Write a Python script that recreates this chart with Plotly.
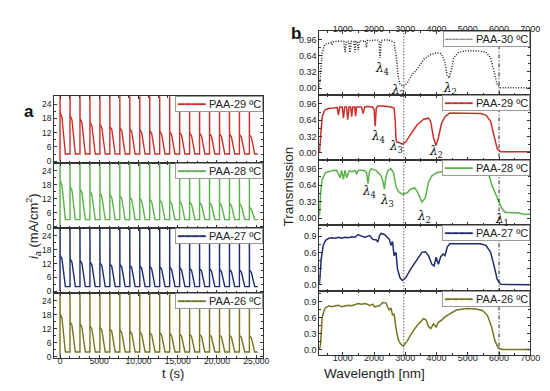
import plotly.graph_objects as go

# ---------------- data: panel a (current transients) ----------------
pulse_times = [0, 1270, 2540, 3810, 5080, 6350, 7620, 8890, 10160, 11430,
               12700, 13970, 15240, 16510, 17780, 19050, 20320, 21590, 22860, 24130]
plateau_29 = [20.5, 19.3, 18.0, 16.5, 15.5, 14.7, 14.1, 13.7, 13.3, 12.9,
              12.6, 12.3, 12.1, 11.9, 11.8, 11.6, 11.5, 11.4, 11.3, 11.2]
plateau_28 = [19.7, 17.2, 16.2, 15.2, 14.4, 13.8, 13.2, 12.7, 12.2, 11.8,
              11.4, 11.0, 10.8, 10.6, 10.4, 10.2, 10.1, 10.0, 9.8, 8.3]
plateau_27 = [15.5, 14.0, 13.4, 12.7, 12.3, 11.9, 11.6, 11.3, 11.0, 10.8,
              10.6, 10.4, 10.2, 10.0, 9.8, 9.7, 9.5, 9.4, 9.2, 9.1]
plateau_26 = [18.3, 14.9, 14.0, 13.2, 12.6, 11.9, 11.4, 11.0, 10.6, 10.3,
              10.1, 9.9, 9.7, 9.6, 9.5, 9.4, 9.3, 9.2, 9.1, 9.0]
base_29, base_28, base_27, base_26 = 3.0, 3.0, 2.0, 2.0
spike_peak = 30.0
t_end = 25200

# ---------------- data: panel b (transmission spectra) ----------------
wl30 = [250, 290, 340, 420, 550, 620, 654, 690, 760, 900, 1030, 1073, 1110, 1190, 1230, 1270,
        1350, 1387, 1420, 1460, 1492, 1530, 1600, 1720, 1754, 1790, 1900, 2000, 2100, 2160,
        2193, 2230, 2300, 2480, 2640, 2720, 2770, 2830, 2940, 3060, 3220, 3380, 3590, 3800,
        4000, 4160, 4270, 4340, 4400, 4480, 4550, 4690, 4950, 5260, 5580, 5730, 5840, 5940,
        6050, 6500, 7000]
T30 = [0.02, 0.30, 0.70, 0.86, 0.89, 0.90, 0.86, 0.91, 0.92, 0.93, 0.92, 0.71, 0.92, 0.92, 0.70, 0.92,
       0.92, 0.71, 0.92, 0.92, 0.75, 0.93, 0.93, 0.93, 0.80, 0.94, 0.94, 0.95, 0.95, 0.93,
       0.60, 0.94, 0.95, 0.95, 0.90, 0.57, 0.24, 0.07, 0.04, 0.10, 0.27, 0.38, 0.57, 0.66,
       0.70, 0.68, 0.50, 0.24, 0.20, 0.37, 0.60, 0.70, 0.74, 0.74, 0.71, 0.60, 0.30, 0.07,
       0.01, 0.01, 0.01]
wl29 = [250, 290, 340, 420, 550, 700, 820, 860, 900, 980, 1020, 1060, 1120, 1157, 1200, 1250,
        1282, 1320, 1380, 1408, 1440, 1600, 1649, 1700, 1800, 1950, 2000, 2036, 2070, 2120,
        2300, 2540, 2640, 2680, 2700, 2730, 2800, 2900, 3010, 3170, 3380, 3590, 3740, 3810,
        3900, 3980, 4060, 4160, 4270, 4420, 4600, 5000, 5400, 5580, 5730, 5840, 5940, 6050,
        6500, 7000]
T29 = [0.0, 0.40, 0.71, 0.84, 0.87, 0.88, 0.89, 0.74, 0.90, 0.90, 0.68, 0.90, 0.90, 0.65, 0.90, 0.90,
       0.71, 0.90, 0.90, 0.72, 0.90, 0.90, 0.77, 0.90, 0.91, 0.90, 0.85, 0.52, 0.88, 0.92,
       0.92, 0.90, 0.88, 0.60, 0.27, 0.21, 0.20, 0.17, 0.21, 0.36, 0.55, 0.66, 0.68, 0.62,
       0.30, 0.14, 0.30, 0.58, 0.71, 0.78, 0.78, 0.78, 0.77, 0.74, 0.62, 0.33, 0.08, 0.02,
       0.02, 0.02]
wl28 = [250, 290, 340, 445, 650, 800, 916, 960, 1020, 1070, 1125, 1200, 1282, 1400, 1439, 1500,
        1600, 1700, 1760, 1806, 1850, 1910, 2070, 2225, 2290, 2330, 2380, 2440, 2540, 2620,
        2700, 2770, 2900, 3060, 3170, 3290, 3380, 3460, 3530, 3640, 3740, 3850, 4000, 4320,
        5000, 5500, 5680, 5780, 5890, 5990, 6080, 6200, 6410, 6620, 6830, 7000]
T28 = [0.03, 0.49, 0.75, 0.88, 0.92, 0.93, 0.78, 0.93, 0.75, 0.93, 0.78, 0.92, 0.90, 0.92, 0.85, 0.93,
       0.93, 0.92, 0.88, 0.67, 0.90, 0.96, 0.92, 0.82, 0.70, 0.56, 0.80, 0.92, 0.96, 0.88,
       0.62, 0.52, 0.46, 0.49, 0.56, 0.59, 0.52, 0.39, 0.31, 0.39, 0.69, 0.82, 0.88, 0.92,
       0.92, 0.90, 0.82, 0.62, 0.46, 0.33, 0.20, 0.11, 0.10, 0.10, 0.07, 0.08]
wl27 = [250, 309, 372, 445, 550, 650, 760, 863, 960, 1070, 1180, 1280, 1390, 1490, 1600, 1700,
        1860, 1960, 2070, 2120, 2170, 2225, 2330, 2430, 2490, 2540, 2590, 2640, 2700, 2750,
        2830, 2905, 3010, 3170, 3380, 3530, 3640, 3740, 3850, 3920, 3985, 4060, 4130, 4210,
        4270, 4340, 4420, 4600, 5000, 5400, 5580, 5730, 5840, 5940, 6050, 6500, 7000]
T27 = [0.0, 0.48, 0.73, 0.82, 0.86, 0.87, 0.86, 0.88, 0.86, 0.88, 0.87, 0.89, 0.88, 0.93, 0.90, 0.88,
       0.91, 0.84, 0.83, 0.79, 0.90, 0.95, 0.93, 0.88, 0.84, 0.73, 0.80, 0.54, 0.60, 0.29,
       0.13, 0.08, 0.13, 0.29, 0.48, 0.60, 0.61, 0.54, 0.38, 0.35, 0.51, 0.38, 0.52, 0.57,
       0.54, 0.70, 0.76, 0.76, 0.76, 0.76, 0.73, 0.60, 0.35, 0.10, 0.01, 0.0, 0.0]
wl26 = [250, 288, 340, 424, 550, 650, 760, 863, 960, 1070, 1180, 1280, 1390, 1490, 1600, 1700,
        1780, 1860, 1960, 2015, 2100, 2172, 2277, 2382, 2430, 2486, 2540, 2591, 2643, 2696,
        2769, 2853, 2926, 3062, 3219, 3376, 3586, 3670, 3743, 3816, 3900, 3984, 4057, 4162,
        4266, 4423, 4633, 4947, 5261, 5470, 5627, 5763, 5868, 5973, 6099, 6500, 7000]
T26 = [0.0, 0.10, 0.61, 0.77, 0.82, 0.80, 0.82, 0.83, 0.80, 0.82, 0.83, 0.82, 0.84, 0.86, 0.85, 0.86,
       0.85, 0.82, 0.85, 0.80, 0.81, 0.82, 0.88, 0.87, 0.80, 0.74, 0.78, 0.64, 0.67, 0.42,
       0.19, 0.10, 0.06, 0.16, 0.32, 0.45, 0.58, 0.55, 0.43, 0.39, 0.48, 0.42, 0.51, 0.55,
       0.61, 0.67, 0.74, 0.77, 0.76, 0.73, 0.64, 0.42, 0.16, 0.03, 0.0, 0.0, 0.0]
lambda3_nm = 2950
lambda1_nm = 6000

names_a = ["PAA-29 ºC", "PAA-28 ºC", "PAA-27 ºC", "PAA-26 ºC"]
names_b = ["PAA-30 ºC", "PAA-29 ºC", "PAA-28 ºC", "PAA-27 ºC", "PAA-26 ºC"]
left_xtickvals = [0, 5000, 10000, 15000, 20000, 25000]
left_xticktext = ["0", "5000", "10,000", "15,000", "20,000", "25,000"]

# ---------------- styling ----------------
RED, GREEN, BLUE, OLIVE, BLACK = "#cc2f2a", "#5bb14b", "#1e2c6b", "#75751f", "#222222"
FONT = "Liberation Sans, Arial, sans-serif"
W, H = 550, 391


def px_x(p):
    return p / W


def px_y(p):
    return 1 - p / H


def pulses(times, plats, base):
    xs, ys = [], []
    for i, (t, p) in enumerate(zip(times, plats)):
        xs += [t, t, t + 15, t + 250, t + 600, t + 680]
        ys += [0 if i == 0 else base, spike_peak, p, p * 0.9, base + 0.5, base]
    xs.append(t_end)
    ys.append(base)
    return xs, ys


fig = go.Figure()

left_domains = [(89, 156), (156, 222), (222, 287), (287, 353)]
right_domains = [(23, 88), (88, 153), (153, 219), (219, 285), (285, 350)]
LX = (47, 260)
RX = (317, 532)

left_series = [(plateau_29, base_29, RED), (plateau_28, base_28, GREEN),
               (plateau_27, base_27, BLUE), (plateau_26, base_26, OLIVE)]
right_series = [(wl30, T30, BLACK, "1px,1.6px"), (wl29, T29, RED, "solid"), (wl28, T28, GREEN, "solid"),
                (wl27, T27, BLUE, "solid"), (wl26, T26, OLIVE, "solid")]

layout = dict(width=W, height=H, margin=dict(l=0, r=0, t=0, b=0),
              paper_bgcolor="white", plot_bgcolor="white",
              font=dict(family=FONT, color="#222"), showlegend=False)

axis_common = dict(showline=True, linecolor="#333", linewidth=1, mirror="allticks",
                   ticks="inside", ticklen=3, tickcolor="#333", showgrid=False, zeroline=False,
                   tickfont=dict(size=8.5, family=FONT, color="#222"))

annotations = []


def legend_box(xr, ytop, name, col, dotted):
    sample = "┈┈┈┈" if dotted else "━━━━"
    return dict(x=px_x(xr), y=px_y(ytop), xref="paper", yref="paper", xanchor="right",
                yanchor="top", showarrow=False, align="left",
                text=f"<span style='color:{col}'>{sample}</span> {name}",
                font=dict(size=11, family=FONT, color="#222"),
                bgcolor="white", bordercolor="#9a9a9a", borderwidth=1, borderpad=1)


k = 0
for i, ((top, bot), (plats, base, col)) in enumerate(zip(left_domains, left_series)):
    k += 1
    xs, ys = pulses(pulse_times, plats, base)
    fig.add_trace(go.Scatter(x=xs, y=ys, mode="lines", line=dict(color=col, width=1.4),
                             name=names_a[i], xaxis=f"x{k}", yaxis=f"y{k}"))
    xa = dict(axis_common, domain=[px_x(LX[0]), px_x(LX[1])], range=[-750, 25900],
              anchor=f"y{k}", tickvals=left_xtickvals, ticktext=left_xticktext,
              showticklabels=(i == 3), ticklabelstandoff=-5,
              minor=dict(ticks="inside", ticklen=2, dtick=1250, tickcolor="#333"))
    ya = dict(axis_common, domain=[px_y(bot), px_y(top)], range=[-0.7, 27.3], anchor=f"x{k}",
              tickvals=[0, 6, 12, 18, 24],
              minor=dict(ticks="inside", ticklen=2, dtick=3, tickcolor="#333"))
    layout["xaxis" if k == 1 else f"xaxis{k}"] = xa
    layout["yaxis" if k == 1 else f"yaxis{k}"] = ya
    annotations.append(legend_box(LX[1], top, names_a[i], col, False))

for i, ((top, bot), (wl, tr, col, dash)) in enumerate(zip(right_domains, right_series)):
    k += 1
    fig.add_trace(go.Scatter(x=wl, y=tr, mode="lines", line=dict(color=col, width=1.5, dash=dash),
                             name=names_b[i], xaxis=f"x{k}", yaxis=f"y{k}"))
    xa = dict(axis_common, domain=[px_x(RX[0]), px_x(RX[1])], range=[245, 7000],
              anchor=f"y{k}", tickvals=[1000, 2000, 3000, 4000, 5000, 6000, 7000],
              showticklabels=(i == 0 or i == 4), side=("top" if i == 0 else "bottom"),
              ticklabelstandoff=-6,
              minor=dict(ticks="inside", ticklen=2, dtick=500, tickcolor="#333"))
    xa["tickfont"] = dict(size=9, family=FONT, color="#222")
    if i < 3:
        yr, tv, tf, md = [-0.14, 1.13], [0, 0.32, 0.64, 0.96], ".2f", 0.16
    else:
        yr, tv, tf, md = [-0.11, 1.10], [0, 0.3, 0.6, 0.9], ".1f", 0.15
    ya = dict(axis_common, domain=[px_y(bot), px_y(top)], range=yr, anchor=f"x{k}",
              tickvals=tv, tickformat=tf,
              minor=dict(ticks="inside", ticklen=2, dtick=md, tickcolor="#333"))
    ya["tickfont"] = dict(size=9, family=FONT, color="#222")
    layout[f"xaxis{k}"] = xa
    layout[f"yaxis{k}"] = ya
    annotations.append(legend_box(RX[1], top, names_b[i], col, i == 0))

# vertical guide lines through all spectra panels
shapes = [
    dict(type="line", xref="x5", yref="paper", x0=lambda3_nm, x1=lambda3_nm,
         y0=px_y(350), y1=px_y(23), line=dict(color="#222", width=1, dash="1px,2px")),
    dict(type="line", xref="x5", yref="paper", x0=lambda1_nm, x1=lambda1_nm,
         y0=px_y(350), y1=px_y(23), line=dict(color="#222", width=1, dash="4px,2px,1px,2px")),
]

# lambda labels
lam_labels = [
    (5, 2256, 0.38, "4"), (5, 2769, -0.05, "3"), (5, 4423, -0.02, "2"),
    (6, 2120, 0.30, "4"), (6, 2696, 0.11, "3"), (6, 3984, 0.01, "2"),
    (7, 1827, 0.50, "4"), (7, 2413, 0.34, "3"), (7, 3586, 0.02, "2"), (7, 6099, -0.04, "1"),
]
for ax, xv, yv, sub in lam_labels:
    annotations.append(dict(x=xv, y=yv, xref=f"x{ax}", yref=f"y{ax}", showarrow=False,
                            text=f"<i>λ</i><sub>{sub}</sub>",
                            font=dict(size=12, family="DejaVu Serif, serif", color="#111")))

# panel letters and axis titles
annotations += [
    dict(x=px_x(14), y=px_y(93), xref="paper", yref="paper", showarrow=False, text="<b>a</b>",
         font=dict(size=17, family=FONT, color="#111")),
    dict(x=px_x(293), y=px_y(14), xref="paper", yref="paper", showarrow=False, text="<b>b</b>",
         font=dict(size=17, family=FONT, color="#111")),
    dict(x=px_x(15), y=px_y(220), xref="paper", yref="paper", showarrow=False, textangle=-90,
         text="<i>i</i><sub><i>a</i></sub> (mA/cm<sup>2</sup>)",
         font=dict(size=13, family=FONT, color="#222")),
    dict(x=px_x(286), y=px_y(180), xref="paper", yref="paper", showarrow=False, textangle=-90,
         text="Transmission", font=dict(size=13.5, family=FONT, color="#222")),
    dict(x=px_x(155), y=px_y(378), xref="paper", yref="paper", showarrow=False,
         text="t (s)", font=dict(size=13, family=FONT, color="#222")),
    dict(x=px_x(427), y=px_y(378), xref="paper", yref="paper", showarrow=False,
         text="Wavelength [nm]", font=dict(size=13.5, family=FONT, color="#222")),
]

layout["annotations"] = annotations
layout["shapes"] = shapes
fig.update_layout(**layout)
fig.write_html("out.html")
